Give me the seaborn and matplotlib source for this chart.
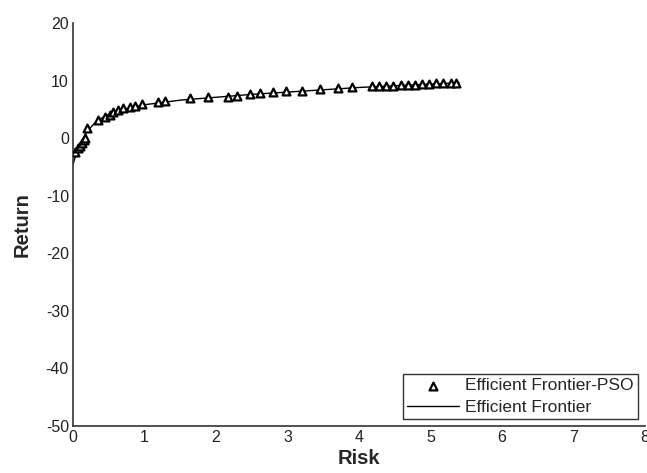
import matplotlib
matplotlib.use("Agg")
import matplotlib.pyplot as plt
import seaborn as sns
import pandas as pd

# PSO points (risk, return)
pso_risk = [0.03, 0.07, 0.10, 0.12, 0.15, 0.17, 0.20, 0.35, 0.45, 0.52, 0.56, 0.63, 0.70,
            0.80, 0.87, 0.97, 1.19, 1.28, 1.64, 1.89, 2.17, 2.29, 2.48, 2.62, 2.80, 2.98,
            3.20, 3.45, 3.70, 3.90, 4.18, 4.28, 4.38, 4.48, 4.58, 4.68, 4.78, 4.88, 4.98,
            5.08, 5.18, 5.28, 5.36]
pso_return = [-2.4, -1.8, -1.4, -0.9, -0.4, 0.0, 1.7, 3.1, 3.7, 4.1, 4.5, 4.8, 5.2,
              5.4, 5.6, 5.9, 6.3, 6.5, 6.9, 7.1, 7.2, 7.3, 7.6, 7.8, 8.0, 8.2,
              8.2, 8.6, 8.7, 8.9, 9.0, 9.0, 9.1, 9.1, 9.2, 9.3, 9.3, 9.4, 9.4,
              9.5, 9.5, 9.6, 9.6]

# Efficient frontier line
ef_risk = [0.0, 0.05, 0.10, 0.20, 0.30, 0.40, 0.50, 0.70, 1.00, 1.50, 2.00, 2.50, 3.00,
           3.50, 4.00, 4.50, 5.00, 5.40]
ef_return = [-4.5, -2.5, -1.0, 1.2, 2.6, 3.5, 4.1, 5.0, 5.8, 6.6, 7.1, 7.6, 8.0,
             8.4, 8.8, 9.1, 9.4, 9.6]

x_ticks = [0, 1, 2, 3, 4, 5, 6, 7, 8]
y_ticks = [-50, -40, -30, -20, -10, 0, 10, 20]

sns.set_theme(style="white")
plt.rcParams['font.family'] = ['Liberation Sans', 'DejaVu Sans']
plt.rcParams['axes.unicode_minus'] = False

fig = plt.figure(figsize=(6.47, 4.73), dpi=100)
ax = fig.add_axes([0.113, 0.0994, 0.884, 0.852])

pso_df = pd.DataFrame({"Risk": pso_risk, "Return": pso_return})
ef_df = pd.DataFrame({"Risk": ef_risk, "Return": ef_return})

sns.scatterplot(data=pso_df, x="Risk", y="Return", ax=ax, marker="^", s=32,
                facecolor="white", edgecolor="black", linewidth=1.6,
                label="Efficient Frontier-PSO", zorder=3)
sns.lineplot(data=ef_df, x="Risk", y="Return", ax=ax, color="black", linewidth=1.0,
             label="Efficient Frontier", zorder=2, sort=False)

ax.set_xlim(0, 8)
ax.set_ylim(-50, 20)
ax.set_xticks(x_ticks)
ax.set_yticks(y_ticks)
ax.tick_params(direction="in", length=5, width=1, labelsize=11.5, colors="#222222", pad=3)
for s in ["top", "right"]:
    ax.spines[s].set_visible(False)
for s in ["left", "bottom"]:
    ax.spines[s].set_color("#333333")
    ax.spines[s].set_linewidth(1.2)

ax.set_xlabel("Risk", fontsize=14.5, fontweight="bold", labelpad=3)
ax.set_ylabel("Return", fontsize=14.5, fontweight="bold", labelpad=10)

leg = ax.legend(loc="lower right", fontsize=12.5, frameon=True, fancybox=False,
                edgecolor="black", borderpad=0.25, handlelength=3.0, handletextpad=0.35,
                borderaxespad=0.4, labelspacing=0.35)
leg.get_frame().set_linewidth(1.0)

fig.savefig("out.png", dpi=100)
